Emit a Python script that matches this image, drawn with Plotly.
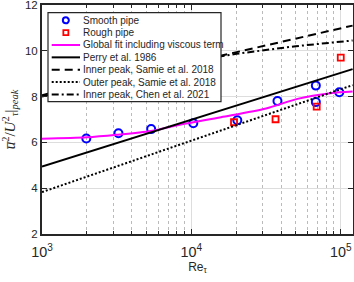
import plotly.graph_objects as go

# Smooth pipe data
smooth_re = [1980, 3250, 5380, 10300, 20300, 37700, 68100, 68100, 97800]
smooth_val = [6.17, 6.40, 6.58, 6.84, 6.97, 7.81, 8.48, 7.76, 8.19]

# Rough pipe data
rough_re = [19300, 36600, 69000, 100000]
rough_val = [6.88, 7.01, 7.56, 9.70]

# Global fit
fit_re = [1000, 2000, 3160, 5370, 8500, 15800, 31600, 51300, 85100, 120000]
fit_val = [6.16, 6.22, 6.33, 6.50, 6.78, 7.10, 7.48, 7.90, 8.15, 8.22]

# Perry et al. 1986
perry_re = [1000, 120000]
perry_val = [4.95, 9.20]

# Inner peak, Samie et al. 2018
samie_in_re = [1000, 120000]
samie_in_val = [8.00, 11.10]

# Outer peak, Samie et al. 2018
samie_out_re = [1000, 120000]
samie_out_val = [3.83, 8.50]

# Inner peak, Chen et al. 2021
chen_re = [1000, 2000, 5000, 10000, 20000, 50000, 120000]
chen_val = [8.06, 8.61, 9.23, 9.56, 9.87, 10.20, 10.45]

legend_labels = ["Smooth pipe", "Rough pipe", "Global fit including viscous term",
                 "Perry et al. 1986", "Inner peak, Samie et al. 2018",
                 "Outer peak, Samie et al. 2018", "Inner peak, Chen et al. 2021"]

DASH_INNER = "8px,5px"
DASH_OUTER = "2px,2px"
DASH_CHEN = "7px,3px,2px,3px"

fig = go.Figure()
fig.add_trace(go.Scatter(x=smooth_re, y=smooth_val, mode="markers", name=legend_labels[0],
                         marker=dict(symbol="circle-open", size=8, color="blue", line=dict(width=2, color="blue"))))
fig.add_trace(go.Scatter(x=rough_re, y=rough_val, mode="markers", name=legend_labels[1],
                         marker=dict(symbol="square-open", size=6, color="red", line=dict(width=1.8, color="red"))))
fig.add_trace(go.Scatter(x=fit_re, y=fit_val, mode="lines", name=legend_labels[2],
                         line=dict(color="#FF00FF", width=2, shape="spline", smoothing=0.8)))
fig.add_trace(go.Scatter(x=perry_re, y=perry_val, mode="lines", name=legend_labels[3],
                         line=dict(color="black", width=2)))
fig.add_trace(go.Scatter(x=samie_in_re, y=samie_in_val, mode="lines", name=legend_labels[4],
                         line=dict(color="black", width=2, dash=DASH_INNER)))
fig.add_trace(go.Scatter(x=samie_out_re, y=samie_out_val, mode="lines", name=legend_labels[5],
                         line=dict(color="black", width=2, dash=DASH_OUTER)))
fig.add_trace(go.Scatter(x=chen_re, y=chen_val, mode="lines", name=legend_labels[6],
                         line=dict(color="black", width=2, dash=DASH_CHEN)))

# ---- custom compact legend (paper coordinates computed from pixel layout) ----
W, H = 354, 282
ML, MR, MT, MB = 42, 1, 5, 48
PW, PH = W - ML - MR, H - MT - MB


def px(xp):
    return (xp - ML) / PW


def py(yp):
    return 1 - (yp - MT) / PH


shapes = []
annotations = []
box = dict(x0=48, x1=221, y0=12.7, y1=101.7)
shapes.append(dict(type="rect", xref="paper", yref="paper", layer="above",
                   x0=px(box["x0"]), x1=px(box["x1"]), y0=py(box["y1"]), y1=py(box["y0"]),
                   fillcolor="white", opacity=1, line=dict(color="#262626", width=1.2)))
row0, drow = 20.3, 12.35
s0, s1, txt_x = 51.7, 80, 82.3
for i, lab in enumerate(legend_labels):
    yc = row0 + i * drow
    if i == 0:
        shapes.append(dict(type="circle", xref="paper", yref="paper", layer="above",
                           xsizemode="pixel", ysizemode="pixel",
                           xanchor=px((s0 + s1) / 2), yanchor=py(yc),
                           x0=-3, x1=3, y0=-3, y1=3,
                           line=dict(color="blue", width=2)))
    elif i == 1:
        shapes.append(dict(type="rect", xref="paper", yref="paper", layer="above",
                           xsizemode="pixel", ysizemode="pixel",
                           xanchor=px((s0 + s1) / 2), yanchor=py(yc),
                           x0=-2.5, x1=2.5, y0=-2.5, y1=2.5,
                           line=dict(color="red", width=1.8)))
    else:
        color = "#FF00FF" if i == 2 else "black"
        dash = {2: "solid", 3: "solid", 4: DASH_INNER, 5: DASH_OUTER, 6: DASH_CHEN}[i]
        shapes.append(dict(type="line", xref="paper", yref="paper", layer="above",
                           x0=px(s0), x1=px(s1), y0=py(yc), y1=py(yc),
                           line=dict(color=color, width=2, dash=dash)))
    annotations.append(dict(xref="paper", yref="paper", x=px(txt_x), y=py(yc),
                            xanchor="left", yanchor="middle", showarrow=False,
                            text=lab, font=dict(size=10, color="#262626"),
                            borderpad=0))

font_family = "Liberation Sans, Arial, sans-serif"
fig.update_layout(
    width=W, height=H,
    margin=dict(l=ML, r=MR, t=MT, b=MB, autoexpand=False),
    plot_bgcolor="white", paper_bgcolor="white",
    font=dict(family=font_family, size=11.5, color="#262626"),
    showlegend=False,
    shapes=shapes, annotations=annotations,
)
fig.update_xaxes(
    type="log", range=[3, 5.082], dtick=1, exponentformat="power", automargin=False,
    ticklabeloverflow="allow", ticklabelstandoff=4,
    showgrid=True, gridcolor="#DDDDDD", gridwidth=1,
    minor=dict(showgrid=True, gridcolor="#BBBBBB", griddash="dot", gridwidth=1,
               ticks="inside", ticklen=3, tickcolor="#262626"),
    ticks="inside", ticklen=5, tickcolor="#262626", tickwidth=1,
    showline=True, linecolor="#262626", linewidth=2, mirror="ticks",
    title=dict(text="Re<sub>τ</sub>", font=dict(size=12), standoff=3),
    zeroline=False,
)
fig.update_yaxes(
    range=[2, 12], dtick=2, automargin=False,
    ticklabeloverflow="allow",
    showgrid=True, gridcolor="#DDDDDD", gridwidth=1,
    ticks="inside", ticklen=5, tickcolor="#262626", tickwidth=1,
    showline=True, linecolor="#262626", linewidth=2, mirror="ticks",
    title=dict(text="<i>u̅</i><sup>2</sup>/<i>U</i><sup>2</sup><sub><i>τ</i></sub>|<sub><i>peak</i></sub>",
               font=dict(size=15, family="Liberation Serif, serif"), standoff=9),
    zeroline=False,
)
fig.write_html("out.html", config={"displayModeBar": False},
               post_script="document.body.style.margin='0';document.body.style.padding='0';")
